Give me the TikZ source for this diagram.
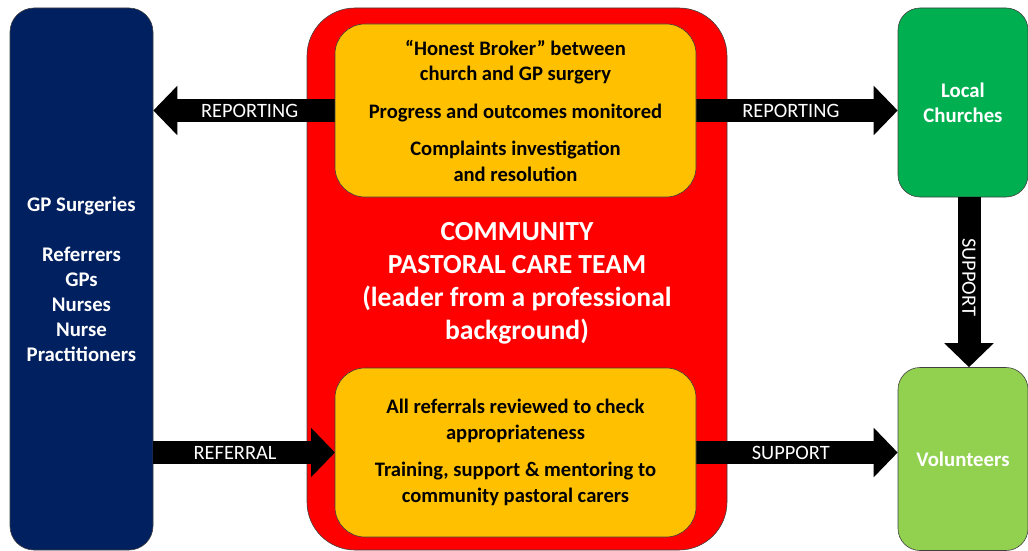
\documentclass[tikz,border=0pt]{standalone}
\usepackage{fontspec}
\setmainfont{Carlito}
\usetikzlibrary{arrows.meta}
\definecolor{navy}{HTML}{002060}
\definecolor{pred}{HTML}{FF0000}
\definecolor{porange}{HTML}{FFC000}
\definecolor{pgreen}{HTML}{00B050}
\definecolor{lgreen}{HTML}{92D050}
\definecolor{edge}{HTML}{404040}
\tikzset{
  box/.style={draw=edge, line width=0.6pt, rounded corners=#1, inner sep=0pt, align=center},
  whitetxt/.style={text=white, font=\fontsize{20.8}{25}\selectfont\bfseries},
  blacktxt/.style={text=black, font=\fontsize{20.6}{25.5}\selectfont\bfseries},
  blockarrow/.style={line width=23pt, draw=black, -{Triangle[length=24pt,width=48pt]}},
  arrowlabel/.style={text=white, font=\fontsize{20.4}{22}\selectfont, inner sep=0pt}
}
\begin{document}
\begin{tikzpicture}[x=1pt,y=-1pt]
\useasboundingbox (0,0) rectangle (1028,551);
% side boxes
\node[box=24pt, fill=navy, minimum width=143pt, minimum height=542pt, whitetxt] (gp) at (81.5,279)
  {GP Surgeries\\[25pt]Referrers\\GPs\\Nurses\\Nurse\\Practitioners};
\node[box=22pt, fill=pgreen, minimum width=130pt, minimum height=189pt, whitetxt] (church) at (963,102.5)
  {Local\\Churches};
\node[box=22pt, fill=lgreen, minimum width=130pt, minimum height=183pt, whitetxt] (vol) at (963,459)
  {Volunteers};
% central red box
\node[box=48pt, fill=pred, minimum width=420pt, minimum height=542pt] (team) at (517,279) {};
% orange box edge coordinates for arrows
\coordinate (topW) at (335,110.5);
\coordinate (topE) at (696,110.5);
\coordinate (botW) at (335,452.5);
\coordinate (botE) at (696,452.5);
% arrows
\draw[blockarrow] (topW) -- (gp.east |- topW) node[arrowlabel, pos=0.47] {REPORTING};
\draw[blockarrow] (topE) -- (church.west |- topE) node[arrowlabel, pos=0.47] {REPORTING};
\draw[blockarrow] (gp.east |- botW) -- (botW) node[arrowlabel, pos=0.45] {REFERRAL};
\draw[blockarrow] (botE) -- (vol.west |- botE) node[arrowlabel, pos=0.47] {SUPPORT};
\draw[blockarrow] ([xshift=6pt]church.south) -- ([xshift=6pt]vol.north) node[arrowlabel, pos=0.47, rotate=-90] {SUPPORT};
% orange boxes
\node[box=30pt, fill=porange, minimum width=361pt, minimum height=173pt, blacktxt] (top) at (515.5,110.5)
  {``Honest Broker'' between\\church and GP surgery\\[12pt]Progress and outcomes monitored\\[12pt]Complaints investigation\\and resolution};
\node[box=30pt, fill=porange, minimum width=361pt, minimum height=169pt, blacktxt] (bot) at (515.5,452.5)
  {All referrals reviewed to check\\appropriateness\\[12pt]Training, support \& mentoring to\\community pastoral carers};
% title
\node[text=white, font=\fontsize{27.6}{33}\selectfont\bfseries, align=center] (title) at (517,283)
  {COMMUNITY\\PASTORAL CARE TEAM\\(leader from a professional\\background)};
\end{tikzpicture}
\end{document}
